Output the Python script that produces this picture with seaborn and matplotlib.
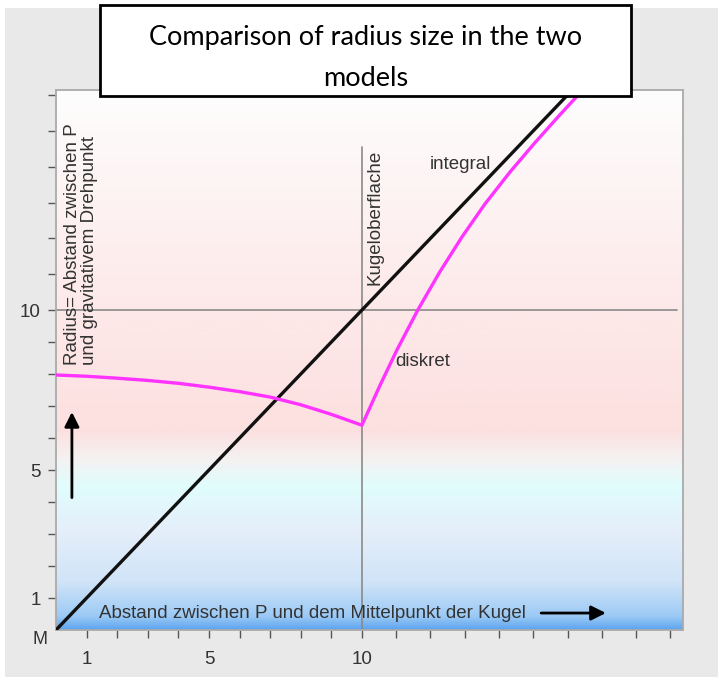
import matplotlib
matplotlib.use("Agg")
import matplotlib.pyplot as plt
import numpy as np
import seaborn as sns
from matplotlib.colors import LinearSegmentedColormap
from matplotlib.patches import Rectangle

# distance between P and the centre M (x) against the radius (y)
integral_x = [0, 17]
integral_y = [0, 17]

diskret_x = [0, 1, 2, 3, 4, 5, 6, 7, 8, 9, 10,
             10.52, 11.02, 11.63, 12.27, 12.92, 13.59, 14.32, 15.04, 15.77, 16.36, 16.94]
diskret_y = [7.97, 7.93, 7.87, 7.80, 7.71, 7.59, 7.45, 7.28, 7.04, 6.74, 6.4,
             7.63, 8.75, 10.0, 11.06, 12.04, 12.96, 13.85, 14.66, 15.44, 16.05, 16.67]

x_ticks = list(range(1, 20))
y_ticks = list(range(1, 17))
labelled = {1: "1", 5: "5", 10: "10"}

title = "Comparison of radius size in the two\nmodels"
x_text = "Abstand zwischen P und dem Mittelpunkt der Kugel"
y_text = "Radius= Abstand zwischen P\nund gravitativem Drehpunkt"

sns.set_theme(style="white")
plt.rcParams["font.family"] = ["Liberation Sans", "DejaVu Sans"]

# the drawing is a bit wider above 10 on both axes
K = 1.12
def fwd(v):
    v = np.asarray(v, dtype=float)
    return np.where(v <= 10, v, 10 + (v - 10) * K)
def inv(u):
    u = np.asarray(u, dtype=float)
    return np.where(u <= 10, u, 10 + (u - 10) / K)

fig = plt.figure(figsize=(7.18, 6.77), dpi=100, facecolor="white")
fig.patches.append(Rectangle((5 / 718, 0), 1, 1 - 8 / 677, transform=fig.transFigure,
                             facecolor="#e9e9e9", edgecolor="none", zorder=-10))
ax = fig.add_axes([56 / 718, 47 / 677, 627 / 718, 540 / 677])

bg = LinearSegmentedColormap.from_list("bg", [
    (0.0, "#5fa6f0"), (0.024, "#9ccaf5"), (0.087, "#d0e4f8"), (0.18, "#e5eefa"),
    (0.265, "#e0fdfd"), (0.32, "#f6f0f0"), (0.37, "#fde0e0"), (0.6, "#fde9e9"),
    (1.0, "#fefdfd")])
ax.imshow(np.linspace(0, 1, 256).reshape(-1, 1), cmap=bg, origin="lower",
          extent=[0, 1, 0, 1], transform=ax.transAxes, aspect="auto",
          interpolation="bicubic", zorder=0)

ax.set_xscale("function", functions=(fwd, inv))
ax.set_yscale("function", functions=(fwd, inv))

# guide lines at 10
ax.plot([0, 19.2], [10, 10], color="#8a8a8a", lw=1.2, zorder=1)
ax.plot([10, 10], [0, 14.55], color="#8a8a8a", lw=1.2, zorder=1)

sns.lineplot(x=integral_x, y=integral_y, color="#111111", lw=2.4, ax=ax, sort=False, zorder=3)
sns.lineplot(x=diskret_x, y=diskret_y, color="#ff33ff", lw=2.4, ax=ax, sort=False, zorder=3)

ax.set_xlim(0, 19.37)
ax.set_ylim(0, 16.14)

ax.set_xticks(x_ticks)
ax.set_xticklabels([labelled.get(t, "") for t in x_ticks])
ax.set_yticks(y_ticks)
ax.set_yticklabels([labelled.get(t, "") for t in y_ticks])
ax.xaxis.set_minor_locator(matplotlib.ticker.NullLocator())
ax.yaxis.set_minor_locator(matplotlib.ticker.NullLocator())
ax.tick_params(axis="both", direction="out", length=6, width=1, color="#555555",
               labelsize=13.5, labelcolor="#333333", bottom=True, left=True)
ax.tick_params(axis="x", pad=9)
ax.tick_params(axis="y", pad=5)
for s in ax.spines.values():
    s.set_color("#aaaaaa")
    s.set_linewidth(1.3)
ax.set_xlabel("")
ax.set_ylabel("")

ax.annotate("M", xy=(0, 0), xytext=(-11.5, -7), textcoords="offset points",
            ha="center", va="center", fontsize=13, color="#333333", annotation_clip=False)

txt = dict(color="#333333", fontsize=13.5)
ax.text(0.82, 8.28, y_text, rotation=90, ha="center", va="bottom",
        multialignment="left", linespacing=1.0, **txt)
ax.text(1.42, 0.53, x_text, ha="left", va="center", **txt)
ax.text(10.38, 10.7, "Kugeloberflache", rotation=90, ha="center", va="bottom", **txt)
ax.text(11.98, 14.05, "integral", ha="left", va="center", **txt)
ax.text(10.96, 8.38, "diskret", ha="left", va="center", **txt)

arrow = dict(arrowstyle="-|>", color="black", lw=2, mutation_scale=22)
ax.annotate("", xy=(17.2, 0.53), xytext=(15.15, 0.53), arrowprops=arrow)
ax.annotate("", xy=(0.52, 6.9), xytext=(0.52, 4.05), arrowprops=arrow)

# title in a framed box overlapping the top of the plot
fig.patches.append(Rectangle((100 / 718, 1 - 96 / 677), 531 / 718, 91 / 677,
                             transform=fig.transFigure, facecolor="white",
                             edgecolor="black", lw=2, zorder=5))
fig.text(366 / 718, 1 - 57.5 / 677, title, ha="center", va="center",
         fontsize=19.5, family=["Lato", "DejaVu Sans"], linespacing=1.8,
         color="black", zorder=6)

fig.savefig("out.png", dpi=100)
